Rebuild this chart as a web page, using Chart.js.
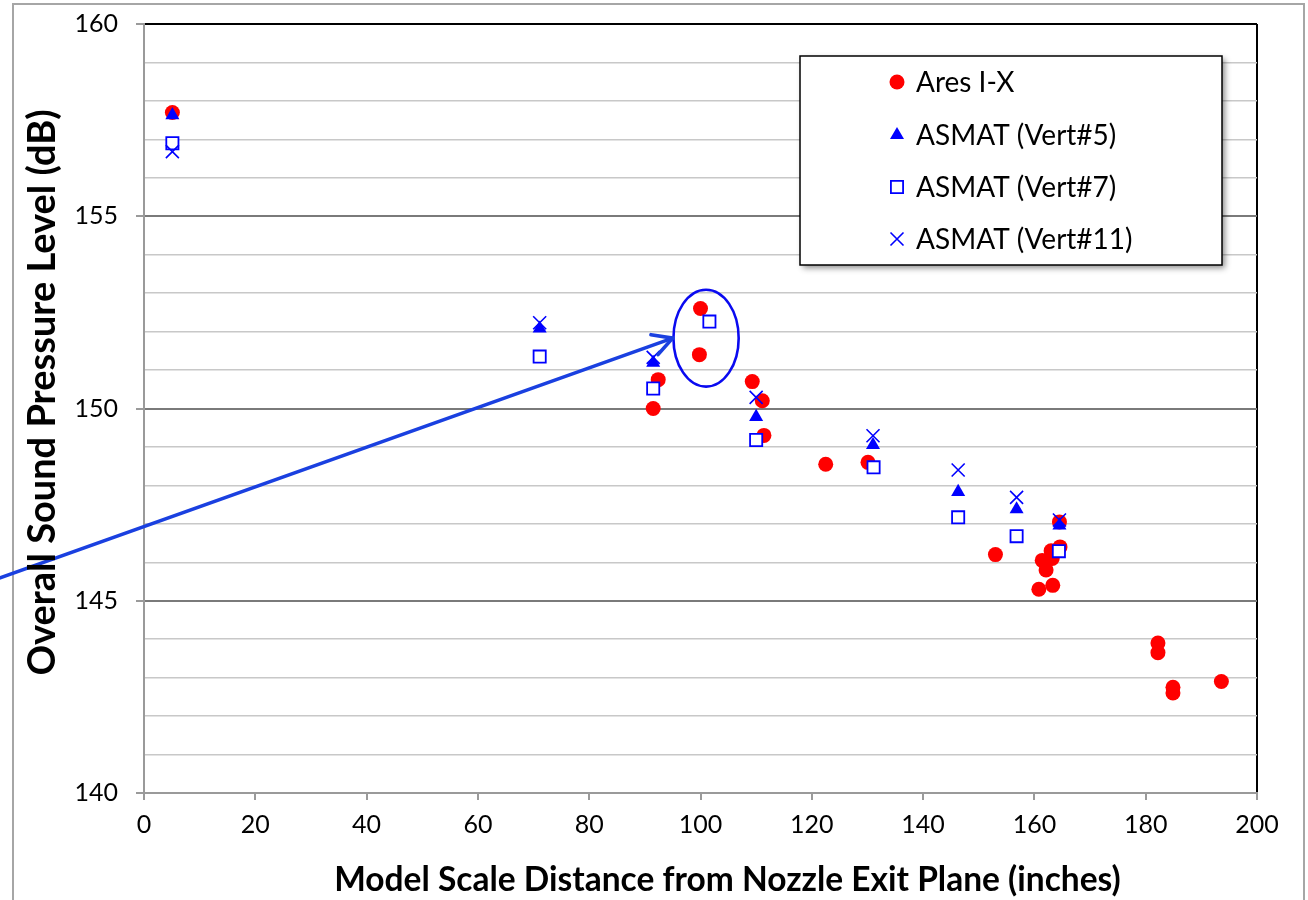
<!DOCTYPE html>
<html>
<head>
<meta charset="utf-8">
<script src="https://cdn.jsdelivr.net/npm/chart.js@4.4.1/dist/chart.umd.min.js"></script>
<style>
html,body{margin:0;padding:0;background:#fff;}
#wrap{width:1308px;height:900px;position:relative;}
</style>
</head>
<body>
<div id="wrap"><canvas id="c" width="1308" height="900"></canvas></div>
<script>
// ---- data ----
const seriesNames = ['Ares I-X', 'ASMAT (Vert#5)', 'ASMAT (Vert#7)', 'ASMAT (Vert#11)'];

const aresX = [5.1, 100.0, 99.8, 92.4, 91.5, 109.3, 111.1, 111.4, 122.5, 130.1, 153.0, 164.5, 164.6, 163.0, 161.4, 163.2, 162.1, 163.3, 160.8, 182.2, 182.2, 184.9, 184.9, 193.6];
const aresY = [157.7, 152.6, 151.4, 150.75, 150.0, 150.7, 150.2, 149.3, 148.55, 148.6, 146.2, 147.05, 146.4, 146.3, 146.05, 146.1, 145.8, 145.4, 145.3, 143.9, 143.65, 142.75, 142.6, 142.9];

const vert5X = [5.1, 71.1, 91.5, 110.0, 131.0, 146.3, 156.8, 164.5];
const vert5Y = [157.63, 152.08, 151.19, 149.78, 149.05, 147.83, 147.38, 146.96];

const vert7X = [5.1, 71.1, 91.5, 101.6, 110.0, 131.1, 146.3, 156.8, 164.4];
const vert7Y = [156.9, 151.35, 150.52, 152.26, 149.18, 148.47, 147.17, 146.68, 146.29];

const vert11X = [5.1, 71.1, 91.5, 110.0, 131.0, 146.3, 156.8, 164.5];
const vert11Y = [156.68, 152.23, 151.33, 150.29, 149.29, 148.4, 147.69, 147.1];

const xTickLabels = [0, 20, 40, 60, 80, 100, 120, 140, 160, 180, 200];
const yTickLabels = [140, 145, 150, 155, 160];

const xTitle = 'Model Scale Distance from Nozzle Exit Plane (inches)';
const yTitle = 'Overall Sound Pressure Level (dB)';

// annotation (data units): ellipse around two points, arrow pointing to it
const ellipseAnno = { cx: 101.0, cy: 151.83, rx: 5.86, ry: 1.26 };
const arrowAnno = { x0: -26.0, y0: 145.59, x1: 95.0, y1: 151.83 };

function pts(xs, ys) { return xs.map((x, i) => ({ x: x, y: ys[i] })); }

Chart.defaults.font.family = 'Lato';
Chart.defaults.color = '#000';

const BLUE = '#0000ff';
const RED = '#ff0000';

const datasets = [
  { label: seriesNames[0], data: pts(aresX, aresY), pointStyle: 'circle', pointRadius: 7.5,
    backgroundColor: RED, borderColor: RED, borderWidth: 0, order: 4 },
  { label: seriesNames[1], data: pts(vert5X, vert5Y), pointStyle: 'triangle', pointRadius: 8.1,
    backgroundColor: BLUE, borderColor: BLUE, borderWidth: 0, order: 3 },
  { label: seriesNames[2], data: pts(vert7X, vert7Y), pointStyle: 'rect', pointRadius: 8.6,
    backgroundColor: '#ffffff', borderColor: BLUE, borderWidth: 1.8, order: 2 },
  { label: seriesNames[3], data: pts(vert11X, vert11Y), pointStyle: 'crossRot', pointRadius: 9.2,
    backgroundColor: BLUE, borderColor: BLUE, borderWidth: 1.6, order: 1 }
];

function drawMarker(ctx, ds, x, y) {
  const opts = { pointStyle: ds.pointStyle, radius: ds.pointRadius, rotation: 0, borderWidth: ds.borderWidth };
  ctx.save();
  ctx.fillStyle = ds.backgroundColor;
  ctx.strokeStyle = ds.borderColor;
  ctx.lineWidth = ds.borderWidth;
  if (Chart.helpers && Chart.helpers.drawPoint) {
    Chart.helpers.drawPoint(ctx, opts, x, y);
  } else {
    ctx.beginPath(); ctx.arc(x, y, ds.pointRadius, 0, Math.PI * 2); ctx.fill();
  }
  ctx.restore();
}

const framePlugin = {
  id: 'frame',
  beforeDraw(chart) {
    const ctx = chart.ctx;
    ctx.save();
    ctx.fillStyle = '#ffffff';
    ctx.fillRect(0, 0, chart.width, chart.height);
    ctx.strokeStyle = '#a6a6a6';
    ctx.lineWidth = 2;
    ctx.strokeRect(13, 4, 1291, 920);
    ctx.restore();
  }
};

// axis titles, placed as in the reference
const axisTitlePlugin = {
  id: 'axisTitles',
  afterDraw(chart) {
    const ctx = chart.ctx, area = chart.chartArea;
    ctx.save();
    ctx.fillStyle = '#000';
    ctx.textAlign = 'center';
    ctx.textBaseline = 'middle';
    ctx.font = 'bold 33.5px Lato';
    ctx.fillText(xTitle, (area.left + area.right) / 2 + 27, 880);
    ctx.translate(43, (area.top + area.bottom) / 2 - 16);
    ctx.rotate(-Math.PI / 2);
    ctx.font = 'bold 38px Lato';
    ctx.fillText(yTitle, 0, 0);
    ctx.restore();
  }
};

const annoPlugin = {
  id: 'anno',
  afterDatasetsDraw(chart) {
    const ctx = chart.ctx, xs = chart.scales.x, ys = chart.scales.y;
    const cx = xs.getPixelForValue(ellipseAnno.cx), cy = ys.getPixelForValue(ellipseAnno.cy);
    const rx = Math.abs(xs.getPixelForValue(ellipseAnno.cx + ellipseAnno.rx) - cx);
    const ry = Math.abs(ys.getPixelForValue(ellipseAnno.cy + ellipseAnno.ry) - cy);
    ctx.save();
    ctx.strokeStyle = '#0a0af0';
    ctx.lineWidth = 2.6;
    ctx.beginPath();
    ctx.ellipse(cx, cy, rx, ry, 0, 0, Math.PI * 2);
    ctx.stroke();
    const ax0 = xs.getPixelForValue(arrowAnno.x0), ay0 = ys.getPixelForValue(arrowAnno.y0);
    const ax1 = xs.getPixelForValue(arrowAnno.x1), ay1 = ys.getPixelForValue(arrowAnno.y1);
    ctx.strokeStyle = '#1a40e0';
    ctx.lineWidth = 3.6;
    ctx.lineCap = 'round';
    ctx.lineJoin = 'round';
    ctx.beginPath();
    ctx.moveTo(ax0, ay0);
    ctx.lineTo(ax1, ay1);
    ctx.stroke();
    const ang = Math.atan2(ay1 - ay0, ax1 - ax0);
    const L = 22, spread = 0.5;
    ctx.beginPath();
    ctx.moveTo(ax1 - L * Math.cos(ang - spread), ay1 - L * Math.sin(ang - spread));
    ctx.lineTo(ax1, ay1);
    ctx.lineTo(ax1 - L * Math.cos(ang + spread), ay1 - L * Math.sin(ang + spread));
    ctx.stroke();
    ctx.restore();
  }
};

const legendPlugin = {
  id: 'boxLegend',
  afterDraw(chart) {
    const ctx = chart.ctx;
    const left = 800, top = 56, w = 422, h = 209;
    ctx.save();
    ctx.shadowColor = 'rgba(0,0,0,0.45)';
    ctx.shadowBlur = 6;
    ctx.shadowOffsetX = 3;
    ctx.shadowOffsetY = 3;
    ctx.fillStyle = '#ffffff';
    ctx.fillRect(left, top, w, h);
    ctx.restore();
    ctx.save();
    ctx.strokeStyle = '#000';
    ctx.lineWidth = 1.5;
    ctx.strokeRect(left, top, w, h);
    const rowsY = [82, 135, 187, 239];
    ctx.font = '28px Lato';
    ctx.fillStyle = '#000';
    ctx.textBaseline = 'middle';
    ctx.textAlign = 'left';
    chart.data.datasets.forEach((ds, i) => {
      drawMarker(ctx, ds, 897, rowsY[i]);
      ctx.fillText(ds.label, 916, rowsY[i] + 1);
    });
    ctx.restore();
  }
};

const chart = new Chart(document.getElementById('c'), {
  type: 'scatter',
  data: { datasets: datasets },
  plugins: [framePlugin, annoPlugin, axisTitlePlugin, legendPlugin],
  options: {
    responsive: false,
    animation: false,
    devicePixelRatio: 1,
    layout: { padding: { top: 24, right: 51, left: 0, bottom: 0 } },
    plugins: { legend: { display: false }, tooltip: { enabled: false } },
    scales: {
      x: {
        type: 'linear',
        min: xTickLabels[0],
        max: xTickLabels[xTickLabels.length - 1],
        afterFit(scale) { scale.height = 107; },
        ticks: { stepSize: 20, padding: 10, font: { size: 25 }, color: '#000' },
        grid: {
          color: (c) => (c.tick && c.tick.value === 200) ? '#000000' : 'rgba(0,0,0,0)',
          lineWidth: 2,
          tickColor: '#9a9a9a',
          tickLength: 7,
          tickWidth: 2
        },
        border: { color: '#9a9a9a', width: 2 },
        title: { display: false, text: xTitle }
      },
      y: {
        type: 'linear',
        min: yTickLabels[0],
        max: yTickLabels[yTickLabels.length - 1],
        afterFit(scale) { scale.width = 144; scale.paddingTop = 8; scale.paddingBottom = 8; },
        ticks: {
          stepSize: 1,
          autoSkip: false,
          padding: 18,
          font: { size: 25 },
          color: '#000',
          callback: (v) => yTickLabels.includes(v) ? String(v) : ''
        },
        grid: {
          color: (c) => {
            const v = c.tick ? c.tick.value : null;
            if (v === 160) return '#000000';
            if (v === 140) return 'rgba(0,0,0,0)';
            if (yTickLabels.includes(v)) return '#7a7a7a';
            return '#c8c8c8';
          },
          lineWidth: (c) => {
            const v = c.tick ? c.tick.value : null;
            return yTickLabels.includes(v) ? 2 : 1.6;
          },
          tickColor: (c) => {
            const v = c.tick ? c.tick.value : null;
            return yTickLabels.includes(v) ? '#9a9a9a' : 'rgba(0,0,0,0)';
          },
          tickLength: 8,
          tickWidth: 2
        },
        border: { color: '#9a9a9a', width: 2 },
        title: { display: false, text: yTitle }
      }
    }
  }
});
</script>
</body>
</html>
